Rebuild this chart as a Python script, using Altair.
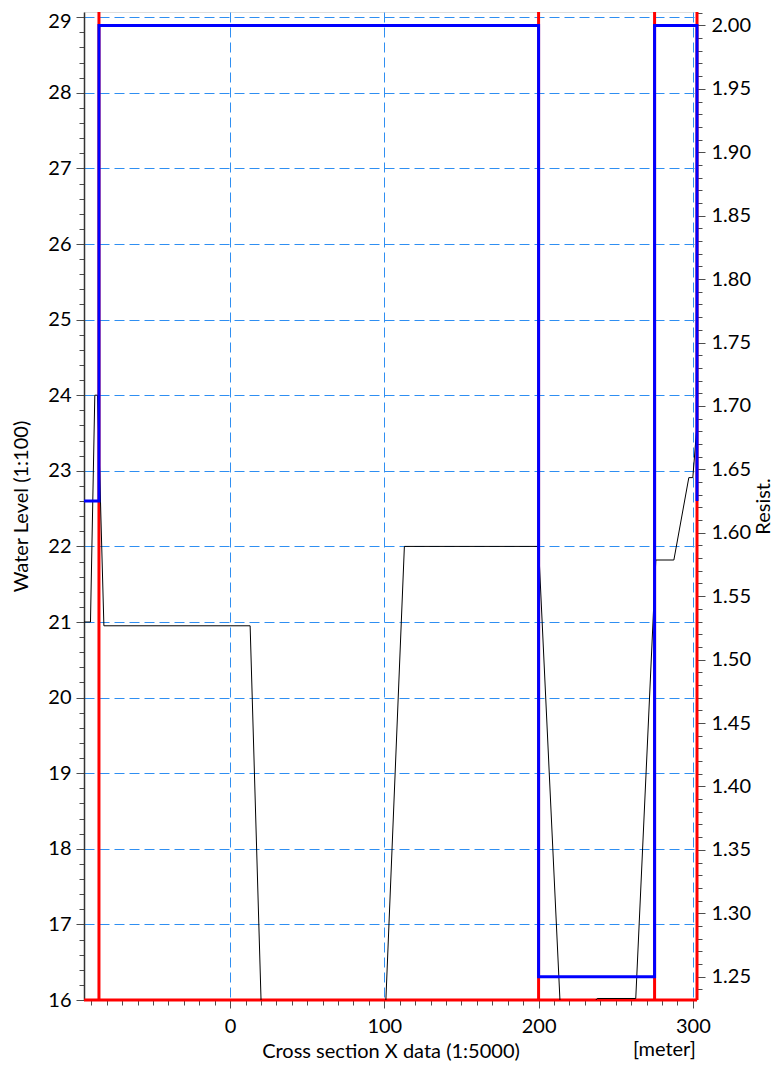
import altair as alt
import pandas as pd

# ---- data ----
black_x = [-96.0, -90.5, -87.7, -85.9, -81.8, 13.0, 21.5, 99.0, 113.0, 200.0,
           215.0, 238.0, 263.0, 276.0, 287.7, 297.4, 300.0, 303.2]
black_y = [21.0, 21.0, 24.0, 24.0, 20.95, 20.95, 15.0, 15.0, 22.0, 22.0,
           15.5, 16.02, 16.02, 21.82, 21.82, 22.91, 22.91, 23.74]

blue_x = [-94.7, -85.0, -85.0, 200.0, 200.0, 275.2, 275.2, 302.7, 302.7]
blue_y = [1.625, 1.625, 2.0, 2.0, 1.25, 1.25, 2.0, 2.0, 1.625]

red_x = [-85.0, 200.0, 275.2, 302.7]

X_DOMAIN = [-94.7, 302.7]
Y_LEFT = [16.0, 29.069]
Y_RIGHT = [1.2316, 2.0106]

x_ticks = list(range(-90, 301, 10))
y_left_ticks = [round(16 + 0.2 * i, 1) for i in range(0, 66)]
y_right_ticks = [round(1.24 + 0.01 * i, 2) for i in range(0, 78)]

W, H = 613, 988
FONT = "Lato"
FS = 20
GRID = "#2f8ff2"
TICK = "#4d4d4d"

# ---- tables ----
red_df = pd.DataFrame({
    "x": red_x + [X_DOMAIN[0]],
    "x2": red_x + [X_DOMAIN[1]],
    "y": [Y_LEFT[0]] * len(red_x) + [Y_LEFT[0]],
    "y2": [Y_LEFT[1]] * len(red_x) + [Y_LEFT[0]],
})
black_df = pd.DataFrame({"x": black_x, "y": black_y, "i": range(len(black_x))})
blue_df = pd.DataFrame({"x": blue_x, "y": blue_y, "i": range(len(blue_x))})

xs = alt.Scale(domain=X_DOMAIN, nice=False, zero=False)
ysl = alt.Scale(domain=Y_LEFT, nice=False, zero=False)
ysr = alt.Scale(domain=Y_RIGHT, nice=False, zero=False)

x_major = "datum.value % 100 === 0"
x_axis = alt.Axis(
    values=x_ticks, title="Cross section X data (1:5000)", grid=True,
    gridColor=GRID, gridDash=[10, 5], gridWidth=1,
    gridOpacity={"condition": {"test": x_major, "value": 1}, "value": 0},
    tickSize={"condition": {"test": x_major, "value": 8}, "value": 5},
    labelExpr=f"{x_major} ? datum.label : ''",
    domain=False, tickColor=TICK, labelFontSize=FS, titleFontSize=FS,
    titleFontWeight="normal", labelPadding=8, titlePadding=5,
    labelFlush=False, labelOverlap=False, labelColor="black", titleColor="black",
    labelFont=FONT, titleFont=FONT,
)

yl_major = "abs(datum.value - round(datum.value)) < 0.001"
y_left_axis = alt.Axis(
    values=y_left_ticks, title="Water Level (1:100)", orient="left", grid=True,
    gridColor=GRID, gridDash=[10, 5], gridWidth=1,
    gridOpacity={"condition": {"test": yl_major, "value": 1}, "value": 0},
    tickSize={"condition": {"test": yl_major, "value": 8}, "value": 5},
    labelExpr=f"{yl_major} ? format(datum.value, 'd') : ''",
    labelOffset={"condition": {"test": "datum.value > 28.9", "value": 4}, "value": 0},
    domain=True, domainColor="#333333", domainWidth=1.5,
    tickColor=TICK, labelFontSize=FS, titleFontSize=FS, titleFontWeight="normal",
    labelPadding=5, titlePadding=16, labelFlush=False, labelOverlap=False,
    labelColor="black", titleColor="black", labelFont=FONT, titleFont=FONT,
)

yr_major = "abs(datum.value * 20 - round(datum.value * 20)) < 0.001"
y_right_axis = alt.Axis(
    values=y_right_ticks, title="Resist.", orient="right", grid=False,
    tickSize={"condition": {"test": yr_major, "value": 8}, "value": 5},
    labelExpr=f"{yr_major} ? format(datum.value, '.2f') : ''",
    domain=False, tickColor=TICK, labelFontSize=FS, titleFontSize=FS,
    titleFontWeight="normal", titleAngle=270, labelPadding=6, titlePadding=23,
    labelFlush=False, labelOverlap=False, labelColor="black", titleColor="black",
    labelFont=FONT, titleFont=FONT,
)

red = alt.Chart(red_df).mark_rule(color="#ff0000", strokeWidth=3).encode(
    x=alt.X("x:Q", scale=xs, axis=x_axis),
    x2="x2:Q",
    y=alt.Y("y:Q", scale=ysl, axis=y_left_axis),
    y2="y2:Q",
)

black = alt.Chart(black_df).mark_line(color="black", strokeWidth=1, clip=True).encode(
    x=alt.X("x:Q", scale=xs, axis=x_axis),
    y=alt.Y("y:Q", scale=ysl, axis=None),
    order="i:Q",
)

blue = alt.Chart(blue_df).mark_line(color="#0000ff", strokeWidth=3).encode(
    x=alt.X("x:Q", scale=xs, axis=x_axis),
    y=alt.Y("y:Q", scale=ysr, axis=y_right_axis),
    order="i:Q",
)

unit = alt.Chart(pd.DataFrame({"t": ["[meter]"]})).mark_text(
    align="right", baseline="alphabetic", fontSize=FS, font=FONT, color="black"
).encode(x=alt.value(612), y=alt.value(1044), text="t:N")

chart = (
    alt.layer(red, black, blue, unit)
    .resolve_scale(y="independent")
    .properties(
        width=W, height=H,
        autosize=alt.AutoSizeParams(type="none"),
        padding={"left": 76, "top": 4, "right": 77, "bottom": 61},
    )
    .configure_view(stroke="#666666", strokeWidth=1)
    .configure(font=FONT)
)

chart.save("out.html", embed_options={"renderer": "svg", "actions": False})
